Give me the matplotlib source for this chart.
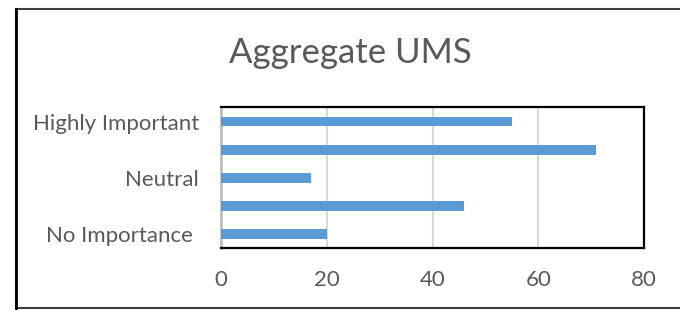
import matplotlib
matplotlib.use("Agg")
import matplotlib.pyplot as plt
from matplotlib.patches import Rectangle

# survey categories, bottom to top
categories = ["No Importance", "Less Important", "Neutral", "Important", "Highly Important"]
tick_labels = ["No Importance ", "", "Neutral", "", "Highly Important"]
values = [20, 46, 17, 71, 55]
x_ticks = [0, 20, 40, 60, 80]

plt.rcParams['font.family'] = ['Lato', 'DejaVu Sans']

fig = plt.figure(figsize=(6.8, 3.1), dpi=100)
ax = fig.add_axes([221/680, 62/310, 423/680, 140.5/310])

ypos = list(range(len(categories)))
ax.barh(ypos, values, height=0.35, color='#5B9BD5', zorder=3)

ax.set_xlim(0, 80)
ax.set_ylim(-0.5, 4.5)
ax.set_xticks(x_ticks)
ax.set_yticks(ypos)
ax.set_yticklabels(tick_labels)
ax.xaxis.grid(True, color='#D9D9D9', linewidth=1.5, zorder=0)
ax.tick_params(axis='both', length=0, labelsize=16, labelcolor='#595959')
ax.tick_params(axis='x', pad=16)
ax.tick_params(axis='y', pad=16)

for side in ['top', 'right', 'bottom']:
    ax.spines[side].set_color('black')
    ax.spines[side].set_linewidth(1.6)
ax.spines['left'].set_color('#BFBFBF')
ax.spines['left'].set_linewidth(2)

fig.text(350/680, 1 - 53/310, "Aggregate UMS", ha='center', va='center',
         fontsize=25, color='#595959')

# outer chart border (right side runs off the image)
fig.patches.append(Rectangle((15.5/680, 2/310), 700/680, 299/310,
                             transform=fig.transFigure, fill=False,
                             edgecolor='#404040', linewidth=1.5))
fig.add_artist(plt.Line2D([15.5/680, 15.5/680], [2/310, 301/310],
                          transform=fig.transFigure, color='black', linewidth=2))

fig.savefig("out.png", dpi=100)
